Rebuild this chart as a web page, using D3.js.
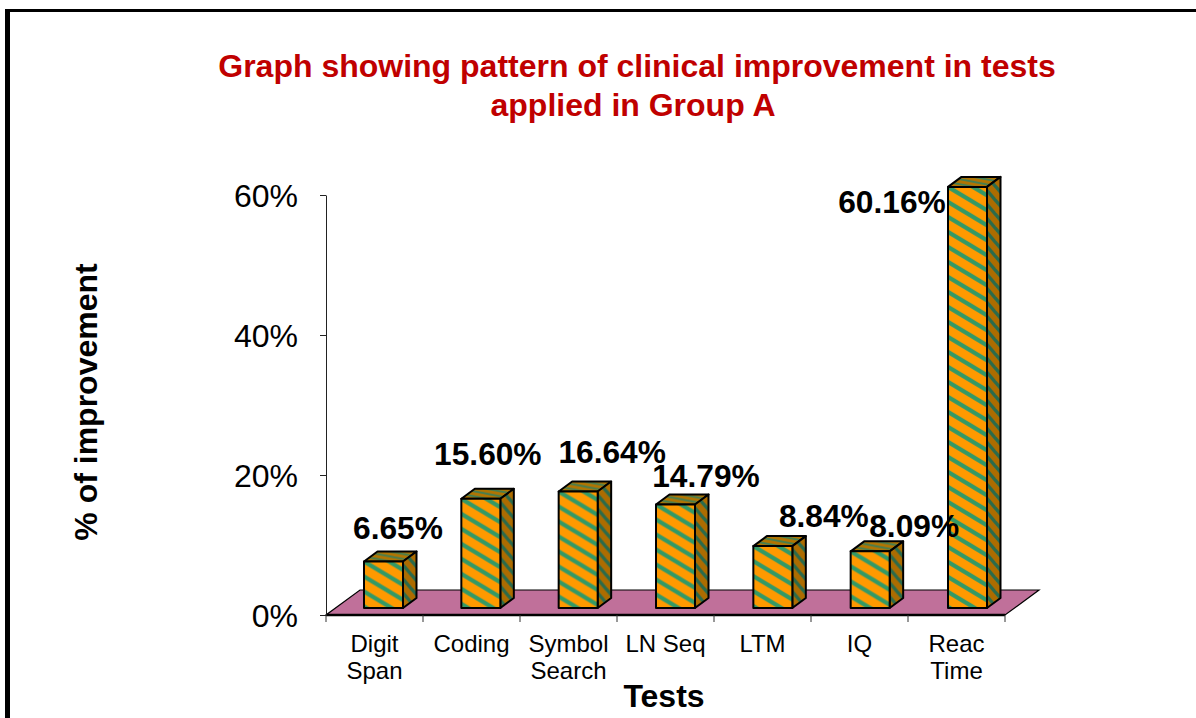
<!DOCTYPE html>
<html>
<head>
<meta charset="utf-8">
<script src="https://cdnjs.cloudflare.com/ajax/libs/d3/7.8.5/d3.min.js"></script>
<style>
    html, body { margin: 0; padding: 0; background: #fff; overflow: hidden; }
    svg { display: block; font-family: "Liberation Sans", Arial, sans-serif; }
</style>
</head>
<body>
<div id="chart"></div>
<script>
const categories = ["Digit Span", "Coding", "Symbol Search", "LN Seq", "LTM", "IQ", "Reac Time"];
const improvement = [6.65, 15.60, 16.64, 14.79, 8.84, 8.09, 60.16];
const yTicks = [0, 20, 40, 60];
const titleLines = ["Graph showing pattern of clinical improvement in tests", "applied in Group A"];

function drawChart() {

    /**********************
    ***** BASIC SETUP *****
    **********************/

    const width = 1196;
    const height = 718;
    const margin = {top: 195, left: 326, right: 191, bottom: 103};

    const svg = d3.select("#chart").append("svg")
        .attr("width", width)
        .attr("height", height);

    const floorY = height - margin.bottom;
    const depth = {x: 13.5, y: 10};
    const floorDepth = {x: 34, y: 25};
    const barWidth = 39;
    const barLift = 7;

    // page frame, only top and left edges are in the picture
    svg.append("rect").attr("x", 5).attr("y", 9).attr("width", 5).attr("height", height).attr("fill", "#000");
    svg.append("rect").attr("x", 5).attr("y", 9).attr("width", width).attr("height", 3).attr("fill", "#000");

    /***********************
    ***** X & Y SCALES *****
    ***********************/

    const xScale = d3.scaleBand()
        .domain(categories)
        .range([margin.left, width - margin.right]);

    // the bars drift a little to the right of the bands
    const barScale = d3.scalePoint()
        .domain(categories)
        .range([383.5, 967.5]);

    const yScale = d3.scaleLinear()
        .domain([0, 60])
        .range([floorY, margin.top]);

    const pxPerUnit = yScale(0) - yScale(1);

    /*******************
    ***** PATTERNS *****
    *******************/

    const defs = svg.append("defs");

    function addStripes(id, w, h, bg, fg, sw) {
        const p = defs.append("pattern")
            .attr("id", id)
            .attr("patternUnits", "userSpaceOnUse")
            .attr("width", w)
            .attr("height", h);
        p.append("rect").attr("width", w).attr("height", h).attr("fill", bg);
        [-w, 0, w].forEach(dx => {
            p.append("line")
                .attr("x1", dx - w).attr("y1", -h)
                .attr("x2", dx + 2 * w).attr("y2", 2 * h)
                .attr("stroke", fg)
                .attr("stroke-width", sw);
        });
    }

    addStripes("stripeFront", 25, 15, "#FF9900", "#339966", 4.2);
    addStripes("stripeSide", 12, 14, "#AD6C00", "#2A6B4C", 3.4);
    addStripes("stripeTop", 26, 5, "#B37400", "#3F7F55", 1.8);

    /*****************
    ***** FLOOR  *****
    *****************/

    const floorPath = d3.path();
    floorPath.moveTo(xScale.range()[0], floorY);
    floorPath.lineTo(xScale.range()[1], floorY);
    floorPath.lineTo(xScale.range()[1] + floorDepth.x, floorY - floorDepth.y);
    floorPath.lineTo(xScale.range()[0] + floorDepth.x, floorY - floorDepth.y);
    floorPath.closePath();

    svg.append("path")
        .attr("d", floorPath.toString())
        .attr("fill", "#C0709A")
        .attr("stroke", "#000")
        .attr("stroke-width", 1.2);

    svg.append("line")
        .attr("x1", xScale.range()[0]).attr("x2", xScale.range()[1])
        .attr("y1", floorY).attr("y2", floorY)
        .attr("stroke", "#000")
        .attr("stroke-width", 2.5);

    /***************************************
    ***** X AXIS, AXIS LABEL           *****
    ***************************************/

    const xAxis = svg.append("g")
        .attr("transform", `translate(0, ${floorY})`)
        .call(d3.axisBottom(xScale).tickSize(0).tickPadding(16));

    xAxis.select(".domain").remove();

    xAxis.selectAll(".tick text")
        .style("font-family", "inherit")
        .style("font-size", "24px")
        .style("fill", "#000")
        .each(function(d) {
            const words = d.split(" ");
            // LN Seq stays on one line in the original
            const lines = d === "LN Seq" ? [d] : words;
            const t = d3.select(this).text(null).attr("dy", null);
            lines.forEach((w, i) => {
                t.append("tspan")
                    .attr("x", 0)
                    .attr("y", 37 + i * 27)
                    .text(w);
            });
        });

    // ticks sit on the band edges, not the centers
    svg.append("g").selectAll("line")
        .data(categories.concat(["end"]))
        .join("line")
        .attr("x1", (d, i) => i < categories.length ? xScale(d) : xScale.range()[1])
        .attr("x2", (d, i) => i < categories.length ? xScale(d) : xScale.range()[1])
        .attr("y1", floorY)
        .attr("y2", floorY + 7)
        .attr("stroke", "#333")
        .attr("stroke-width", 1);

    svg.append("text")
        .attr("x", 664)
        .attr("y", 707)
        .attr("text-anchor", "middle")
        .style("font-size", "32px")
        .style("font-weight", "bold")
        .text("Tests");

    /***************************************
    ***** Y AXIS, AXIS LABEL           *****
    ***************************************/

    const yAxis = svg.append("g")
        .attr("transform", `translate(${margin.left}, 0)`)
        .call(d3.axisLeft(yScale)
            .tickValues(yTicks)
            .tickFormat(d => d + "%")
            .tickSize(6)
            .tickSizeOuter(0)
            .tickPadding(22));

    yAxis.selectAll("text")
        .style("font-family", "inherit")
        .style("font-size", "32px")
        .style("fill", "#000")
        .attr("dy", "0.36em");

    yAxis.selectAll("line, path").attr("stroke", "#222");

    svg.append("text")
        .attr("transform", `translate(97, 402) rotate(-90)`)
        .attr("text-anchor", "middle")
        .style("font-size", "32px")
        .style("font-weight", "bold")
        .text("% of improvement");

    /*****************
    ***** TITLE  *****
    *****************/

    svg.append("g").selectAll("text")
        .data(titleLines)
        .join("text")
        .attr("x", (d, i) => i === 0 ? 637 : 633)
        .attr("y", (d, i) => 77 + i * 39)
        .attr("text-anchor", "middle")
        .style("font-size", "32px")
        .style("font-weight", "bold")
        .style("fill", "#C00000")
        .text(d => d);

    /****************
    ***** BARS  *****
    *****************/

    const bars = svg.append("g").selectAll("g")
        .data(categories.map((c, i) => ({name: c, value: improvement[i]})))
        .join("g")
        .attr("transform", d => `translate(${barScale(d.name) - barWidth / 2}, ${floorY - barLift - d.value * pxPerUnit})`);

    const edge = sel => sel.attr("stroke", "#000").attr("stroke-width", 2).attr("stroke-linejoin", "round");

    // top face
    bars.append("path")
        .attr("d", `M0,0 L${depth.x},${-depth.y} L${barWidth + depth.x},${-depth.y} L${barWidth},0 Z`)
        .attr("fill", "url(#stripeTop)")
        .call(edge);

    // side face
    bars.append("path")
        .attr("d", d => {
            const h = d.value * pxPerUnit;
            return `M${barWidth},0 L${barWidth + depth.x},${-depth.y} L${barWidth + depth.x},${h - depth.y} L${barWidth},${h} Z`;
        })
        .attr("fill", "url(#stripeSide)")
        .call(edge);

    // front face
    bars.append("rect")
        .attr("width", barWidth)
        .attr("height", d => d.value * pxPerUnit)
        .attr("fill", "url(#stripeFront)")
        .call(edge);

    /**********************
    ***** DATA LABELS *****
    **********************/

    // hand-placed in the original, offset from the top of each bar
    const labelNudge = [[14.5, -22.5], [7, -34], [34, -28.5], [30.5, -17.5], [51, -19], [44, -14], [-75.5, 26]];

    svg.append("g").selectAll("text")
        .data(improvement)
        .join("text")
        .attr("x", (d, i) => barScale(categories[i]) + labelNudge[i][0])
        .attr("y", (d, i) => floorY - barLift - d * pxPerUnit + labelNudge[i][1])
        .attr("text-anchor", "middle")
        .style("font-size", "31.7px")
        .style("font-weight", "bold")
        .text(d => d3.format(".2f")(d) + "%");
}

drawChart();
</script>
</body>
</html>
